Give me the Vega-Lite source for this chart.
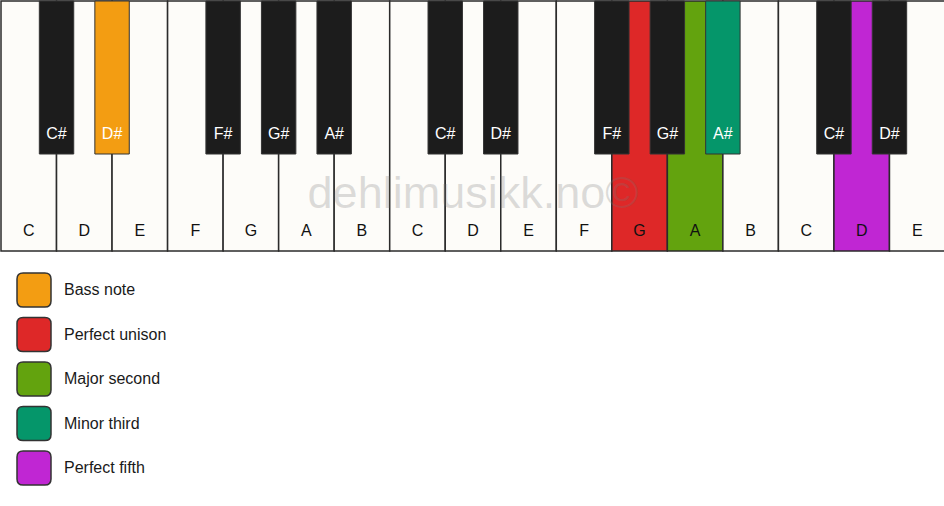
{
  "$schema": "https://vega.github.io/schema/vega-lite/v6.json",
  "width": 944,
  "height": 250,
  "padding": 0,
  "background": "white",
  "config": {
    "view": {"stroke": null},
    "font": "Liberation Sans"
  },
  "data": {
    "values": [
      {"note": "C", "kind": "white", "x0": 0, "x1": 1, "role": null},
      {"note": "D", "kind": "white", "x0": 1, "x1": 2, "role": null},
      {"note": "E", "kind": "white", "x0": 2, "x1": 3, "role": null},
      {"note": "F", "kind": "white", "x0": 3, "x1": 4, "role": null},
      {"note": "G", "kind": "white", "x0": 4, "x1": 5, "role": null},
      {"note": "A", "kind": "white", "x0": 5, "x1": 6, "role": null},
      {"note": "B", "kind": "white", "x0": 6, "x1": 7, "role": null},
      {"note": "C", "kind": "white", "x0": 7, "x1": 8, "role": null},
      {"note": "D", "kind": "white", "x0": 8, "x1": 9, "role": null},
      {"note": "E", "kind": "white", "x0": 9, "x1": 10, "role": null},
      {"note": "F", "kind": "white", "x0": 10, "x1": 11, "role": null},
      {"note": "G", "kind": "white", "x0": 11, "x1": 12, "role": "Perfect unison"},
      {"note": "A", "kind": "white", "x0": 12, "x1": 13, "role": "Major second"},
      {"note": "B", "kind": "white", "x0": 13, "x1": 14, "role": null},
      {"note": "C", "kind": "white", "x0": 14, "x1": 15, "role": null},
      {"note": "D", "kind": "white", "x0": 15, "x1": 16, "role": "Perfect fifth"},
      {"note": "E", "kind": "white", "x0": 16, "x1": 17, "role": null},
      {"note": "C#", "kind": "black", "x0": 0.69, "x1": 1.31, "role": null},
      {"note": "D#", "kind": "black", "x0": 1.69, "x1": 2.31, "role": "Bass note"},
      {"note": "F#", "kind": "black", "x0": 3.69, "x1": 4.31, "role": null},
      {"note": "G#", "kind": "black", "x0": 4.69, "x1": 5.31, "role": null},
      {"note": "A#", "kind": "black", "x0": 5.69, "x1": 6.31, "role": null},
      {"note": "C#", "kind": "black", "x0": 7.69, "x1": 8.31, "role": null},
      {"note": "D#", "kind": "black", "x0": 8.69, "x1": 9.31, "role": null},
      {"note": "F#", "kind": "black", "x0": 10.69, "x1": 11.31, "role": null},
      {"note": "G#", "kind": "black", "x0": 11.69, "x1": 12.31, "role": null},
      {"note": "A#", "kind": "black", "x0": 12.69, "x1": 13.31, "role": "Minor third"},
      {"note": "C#", "kind": "black", "x0": 14.69, "x1": 15.31, "role": null},
      {"note": "D#", "kind": "black", "x0": 15.69, "x1": 16.31, "role": null}
    ]
  },
  "transform": [
    {"calculate": "(datum.x0 + datum.x1) / 2", "as": "mid"}
  ],
  "layer": [
    {
      "transform": [{"filter": "datum.kind == 'white'"}],
      "mark": {"type": "rect", "stroke": "#2b2b2b", "strokeWidth": 1.5, "opacity": 1},
      "encoding": {
        "x": {"field": "x0", "type": "quantitative", "scale": {"domain": [0, 17], "nice": false, "zero": false}, "axis": null},
        "x2": {"field": "x1"},
        "y": {"datum": 0, "type": "quantitative", "scale": {"domain": [0, 100], "reverse": true, "nice": false}, "axis": null},
        "y2": {"datum": 100},
        "color": {
          "field": "role",
          "type": "nominal",
          "condition": {"test": "!datum.role", "value": "#fdfcf9"},
          "scale": {
            "domain": ["Bass note", "Perfect unison", "Major second", "Minor third", "Perfect fifth"],
            "range": ["#f39d12", "#de2828", "#63a30e", "#05966a", "#c026d3"]
          },
          "legend": {
            "title": null,
            "orient": "none",
            "legendX": 15,
            "legendY": 271,
            "padding": 0,
            "symbolType": "M -0.64 -1 L 0.64 -1 Q 1 -1 1 -0.64 L 1 0.64 Q 1 1 0.64 1 L -0.64 1 Q -1 1 -1 0.64 L -1 -0.64 Q -1 -1 -0.64 -1 Z",
            "symbolSize": 1156,
            "symbolStrokeColor": "#222222",
            "symbolStrokeWidth": 1.5,
            "symbolOpacity": 1,
            "rowPadding": 4.5,
            "labelFontSize": 16,
            "labelColor": "#1a1a1a",
            "labelOffset": 12,
            "labelLimit": 300
          }
        }
      }
    },
    {
      "transform": [{"filter": "datum.kind == 'white'"}],
      "mark": {"type": "text", "fontSize": 16, "baseline": "middle", "align": "center", "color": "#111111"},
      "encoding": {
        "x": {"field": "mid", "type": "quantitative"},
        "y": {"datum": 92},
        "text": {"field": "note"}
      }
    },
    {
      "data": {"values": [{"label": "dehlimusikk.no©"}]},
      "transform": [],
      "mark": {"type": "text", "fontSize": 45, "baseline": "alphabetic", "align": "center", "fill": "#777777", "fillOpacity": 0.25},
      "encoding": {
        "x": {"datum": 8.5},
        "y": {"datum": 82.8},
        "text": {"field": "label"}
      }
    },
    {
      "transform": [{"filter": "datum.kind == 'black'"}],
      "mark": {"type": "rect", "stroke": "#333333", "strokeWidth": 1, "opacity": 1},
      "encoding": {
        "x": {"field": "x0", "type": "quantitative"},
        "x2": {"field": "x1"},
        "y": {"datum": 0},
        "y2": {"datum": 61.2},
        "color": {
          "field": "role",
          "type": "nominal",
          "condition": {"test": "!datum.role", "value": "#1c1c1c"}
        }
      }
    },
    {
      "transform": [{"filter": "datum.kind == 'black'"}],
      "mark": {"type": "text", "fontSize": 16, "baseline": "middle", "align": "center", "color": "#ffffff"},
      "encoding": {
        "x": {"field": "mid", "type": "quantitative"},
        "y": {"datum": 53.2},
        "text": {"field": "note"}
      }
    }
  ]
}
